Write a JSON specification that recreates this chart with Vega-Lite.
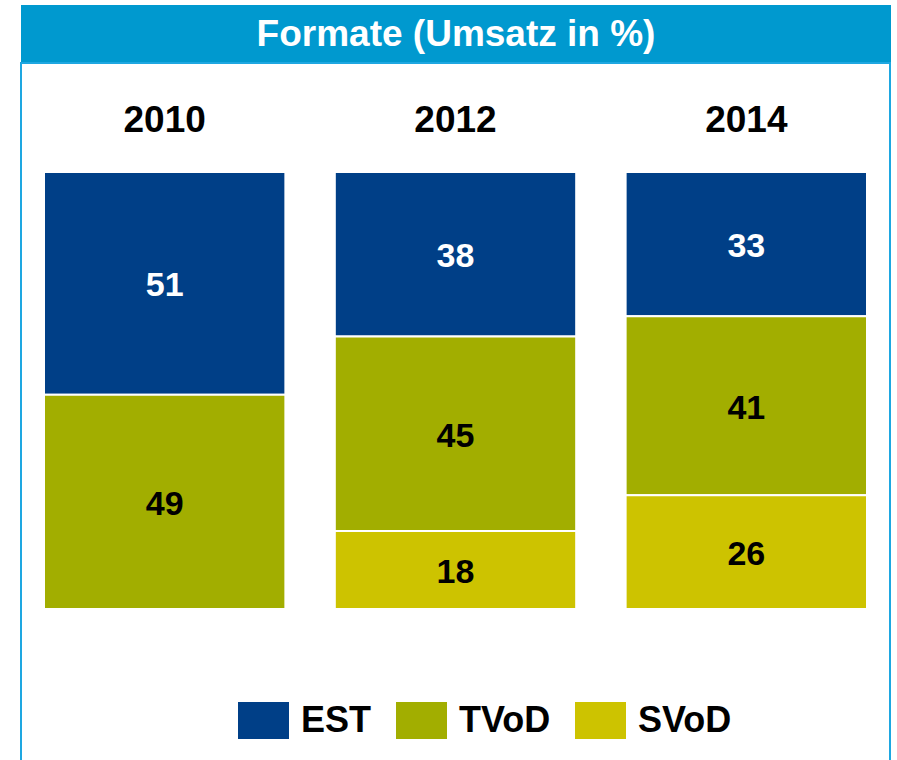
{
  "$schema": "https://vega.github.io/schema/vega-lite/v6.json",
  "padding": {"left": 20, "top": 5, "right": 0, "bottom": 0},
  "background": "white",
  "spacing": 0,
  "config": {"font": "Liberation Sans", "concat": {"spacing": 0}},
  "datasets": {
    "shares": [
      {"year": "2010", "format": "EST", "value": 51},
      {"year": "2010", "format": "TVoD", "value": 49},
      {"year": "2012", "format": "EST", "value": 38},
      {"year": "2012", "format": "TVoD", "value": 45},
      {"year": "2012", "format": "SVoD", "value": 18},
      {"year": "2014", "format": "EST", "value": 33},
      {"year": "2014", "format": "TVoD", "value": 41},
      {"year": "2014", "format": "SVoD", "value": 26}
    ]
  },
  "vconcat": [
    {
      "width": 870,
      "height": 57,
      "view": {"fill": "#0099cf", "stroke": null},
      "data": {"values": [{"t": "Formate (Umsatz in %)"}]},
      "mark": {"type": "text", "color": "white", "fontSize": 37, "fontWeight": "bold", "baseline": "middle", "dy": 1},
      "encoding": {"text": {"field": "t", "type": "nominal"}}
    },
    {
      "width": 869,
      "height": 720,
      "view": {"stroke": "#1ea7e1", "strokeWidth": 2},
      "data": {"name": "shares"},
      "transform": [
        {"calculate": "indexof(['SVoD','TVoD','EST'], datum.format)", "as": "ord"}
      ],
      "encoding": {
        "x": {
          "field": "year",
          "type": "nominal",
          "scale": {"range": [23, 846], "paddingInner": 0.17, "paddingOuter": 0},
          "axis": {
            "orient": "top",
            "offset": -68,
            "title": null,
            "domain": false,
            "ticks": false,
            "tickSize": 0,
            "labelPadding": 0,
            "labelAngle": 0,
            "labelBaseline": "alphabetic",
            "labelFontSize": 37,
            "labelFontWeight": "bold",
            "labelColor": "black"
          }
        }
      },
      "layer": [
        {
          "mark": {"type": "bar", "stroke": "white", "strokeWidth": 2},
          "encoding": {
            "y": {
              "field": "value",
              "type": "quantitative",
              "stack": "normalize",
              "scale": {"domain": [-0.3982, 1.2494], "nice": false, "zero": false},
              "axis": null
            },
            "color": {
              "field": "format",
              "type": "nominal",
              "scale": {"domain": ["EST", "TVoD", "SVoD"], "range": ["#003f87", "#a2ae00", "#cdc300"]},
              "legend": {
                "orient": "none",
                "legendX": 217,
                "legendY": 690,
                "direction": "horizontal",
                "title": null,
                "symbolType": "M-1,-0.725L1,-0.725L1,0.725L-1,0.725Z",
                "symbolSize": 2601,
                "symbolStrokeWidth": 0,
                "symbolOpacity": 1,
                "labelFontSize": 36,
                "labelFontWeight": "bold",
                "labelColor": "black",
                "labelOffset": 12,
                "columnPadding": 24
              }
            },
            "order": {"field": "ord", "type": "quantitative"}
          }
        },
        {
          "mark": {"type": "text", "fontSize": 34, "fontWeight": "bold", "baseline": "middle", "dy": 3},
          "encoding": {
            "y": {"field": "value", "type": "quantitative", "stack": "normalize", "bandPosition": 0.5},
            "detail": {"field": "format", "type": "nominal"},
            "order": {"field": "ord", "type": "quantitative"},
            "text": {"field": "value", "type": "quantitative"},
            "color": {"condition": {"test": "datum.format === 'EST'", "value": "white"}, "value": "black"}
          }
        }
      ]
    }
  ]
}
